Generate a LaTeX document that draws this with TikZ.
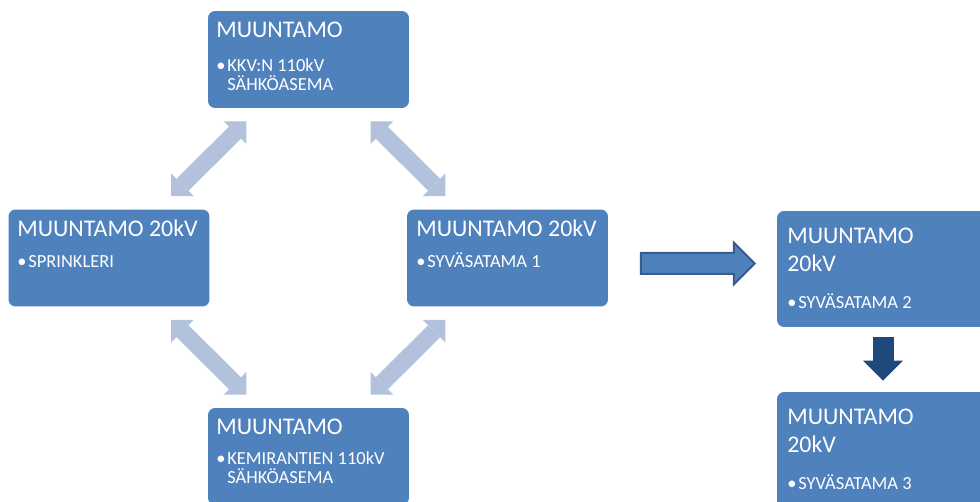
\documentclass[tikz,border=0pt]{standalone}
\usepackage{fontspec}
\setmainfont{Carlito}
\usepackage{tikz}
\usetikzlibrary{arrows.meta, positioning, calc, shapes.arrows}
\definecolor{boxblue}{HTML}{4F81BD}
\definecolor{lightarr}{HTML}{B2C2DD}
\definecolor{darkarr}{HTML}{1F497D}
\definecolor{edgeblue}{HTML}{385D8A}
\newcommand{\bul}[1]{\makebox[0.22cm][l]{•}\parbox[t]{3.6cm}{#1}}

\begin{document}
\begin{tikzpicture}[
    x=0.02cm, y=-0.02cm,
    station/.style={rectangle, rounded corners=4pt, fill=boxblue,
                    minimum width=4.02cm, minimum height=1.94cm, inner sep=0pt},
    tall/.style={station, minimum width=4.24cm, minimum height=2.32cm},
    ttl/.style={anchor=base west, inner sep=0pt, text=white, font=\fontsize{13.6}{15.4}\selectfont},
    item/.style={anchor=base west, inner sep=0pt, text=white, font=\fontsize{10.5}{10.3}\selectfont},
    link/.style={{Triangle[length=0.32cm, width=0.64cm, line width=0pt]}-{Triangle[length=0.32cm, width=0.64cm, line width=0pt]},
                 line width=0.34cm, lightarr, shorten <=0.37cm, shorten >=0.37cm},
    drop/.style={-{Triangle[length=0.4cm, width=0.8cm, line width=0pt]}, line width=0.42cm, darkarr,
                 shorten <=0.2cm, shorten >=0.22cm},
    fatarrow/.style={single arrow, draw=edgeblue, line width=0.04cm, fill=boxblue,
                     minimum height=2.28cm, inner xsep=0pt, inner ysep=0.19cm,
                     single arrow head extend=0.21cm}
]
\clip (0,0) rectangle (980,502);

\node[station] (kkv) at (308.5,59.5) {};
\node[ttl] (kkvT) at (216,38) {MUUNTAMO};
\node[item] (kkvB) at (216,72) {\bul{KKV:N 110kV\\SÄHKÖASEMA}};

\node[station] (spr) at (109,258) {};
\node[ttl] (sprT) at (17,237) {MUUNTAMO 20kV};
\node[item] (sprB) at (17,268) {\bul{SPRINKLERI}};

\node[station] (syv1) at (507.5,258) {};
\node[ttl] (syv1T) at (416,237) {MUUNTAMO 20kV};
\node[item] (syv1B) at (416,268) {\bul{SYVÄSATAMA 1}};

\node[station] (kem) at (308.5,456.5) {};
\node[ttl] (kemT) at (216,435) {MUUNTAMO};
\node[item] (kemB) at (216,465) {\bul{KEMIRANTIEN 110kV\\SÄHKÖASEMA}};

\node[tall] (syv2) at (883,269) {};
\node[ttl] (syv2T) at (787,244) {\parbox[t]{4cm}{MUUNTAMO\\20kV}};
\node[item] (syv2B) at (787,309) {\bul{SYVÄSATAMA 2}};

\node[tall] (syv3) at (883,450) {};
\node[ttl] (syv3T) at (787,425) {\parbox[t]{4cm}{MUUNTAMO\\20kV}};
\node[item] (syv3B) at (787,490) {\bul{SYVÄSATAMA 3}};

% rengas
\draw[link] (spr) -- (kkv);
\draw[link] (syv1) -- (kkv);
\draw[link] (spr) -- (kem);
\draw[link] (syv1) -- (kem);

\node[fatarrow] (siirto) at ($(syv1.east)!0.5!(syv2.west)$) {};
\draw[drop] (syv2) -- (syv3);
\end{tikzpicture}
\end{document}
